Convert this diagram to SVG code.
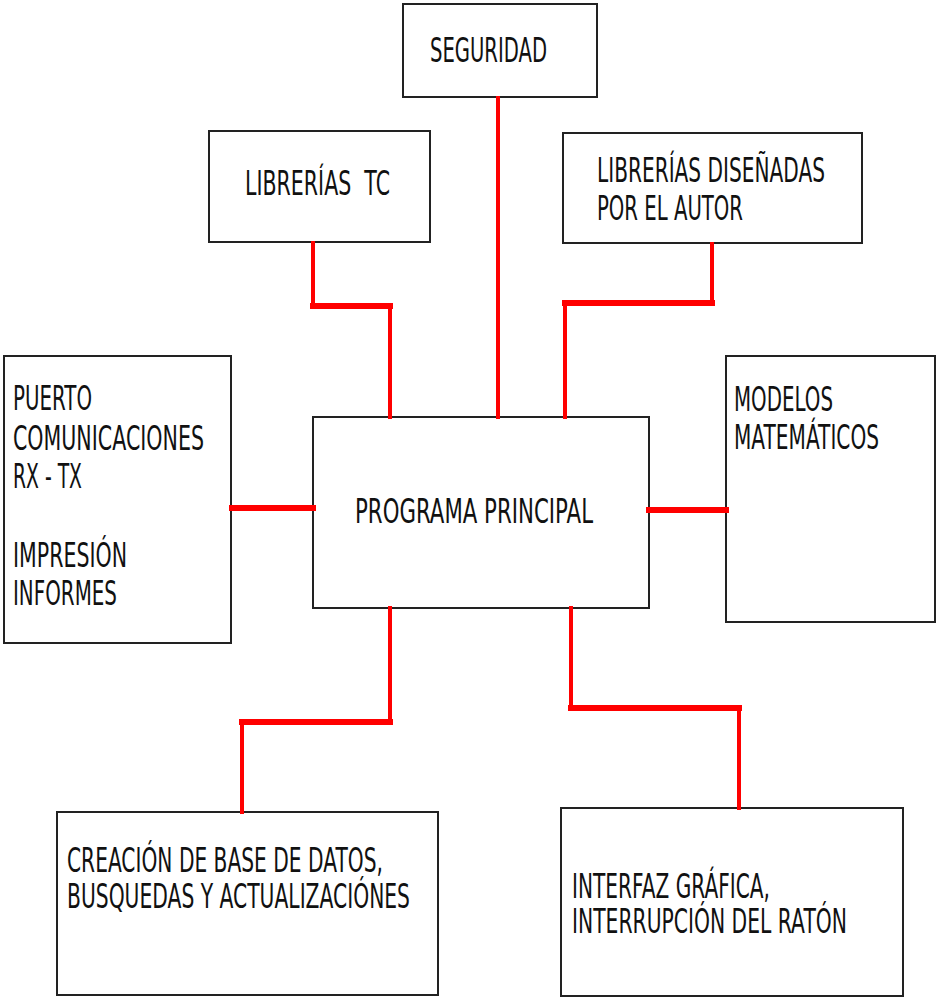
<svg xmlns="http://www.w3.org/2000/svg" width="936" height="999" viewBox="0 0 936 999">
<style>
.box{fill:#fff;stroke:#222;stroke-width:2}
text{font-family:"DejaVu Sans","Liberation Sans",sans-serif;font-size:19px;fill:#111}
.v{stroke:#f00;stroke-width:4;stroke-linecap:square}
.h{stroke:#f00;stroke-width:6;stroke-linecap:square}
</style>
<rect width="936" height="999" fill="#fff"/>
<g id="nodes">
<g id="seguridad"><rect class="box" x="403" y="4" width="194" height="93"/>
<text transform="translate(430,62) scale(1,1.8)" textLength="117" lengthAdjust="spacingAndGlyphs">SEGURIDAD</text></g>
<g id="librerias-tc"><rect class="box" x="209" y="131" width="221" height="111"/>
<text xml:space="preserve" transform="translate(245,195) scale(1,1.8)" textLength="145" lengthAdjust="spacingAndGlyphs">LIBRERÍAS  TC</text></g>
<g id="librerias-autor"><rect class="box" x="563" y="133" width="299" height="110"/>
<text transform="translate(597,182) scale(1,1.8)" textLength="228" lengthAdjust="spacingAndGlyphs">LIBRERÍAS DISEÑADAS</text>
<text transform="translate(597,220) scale(1,1.8)" textLength="146" lengthAdjust="spacingAndGlyphs">POR EL AUTOR</text></g>
<g id="puerto"><rect class="box" x="4" y="356" width="227" height="287"/>
<text transform="translate(13,410) scale(1,1.8)" textLength="79" lengthAdjust="spacingAndGlyphs">PUERTO</text>
<text transform="translate(13,450) scale(1,1.8)" textLength="191" lengthAdjust="spacingAndGlyphs">COMUNICACIONES</text>
<text transform="translate(13,488) scale(1,1.8)" textLength="69" lengthAdjust="spacingAndGlyphs">RX - TX</text>
<text transform="translate(13,567) scale(1,1.8)" textLength="114" lengthAdjust="spacingAndGlyphs">IMPRESIÓN</text>
<text transform="translate(13,605) scale(1,1.8)" textLength="104" lengthAdjust="spacingAndGlyphs">INFORMES</text></g>
<g id="programa"><rect class="box" x="313" y="417" width="336" height="191"/>
<text transform="translate(355,523) scale(1,1.8)" textLength="238" lengthAdjust="spacingAndGlyphs">PROGRAMA PRINCIPAL</text></g>
<g id="modelos"><rect class="box" x="726" y="356" width="209" height="266"/>
<text transform="translate(734,411) scale(1,1.8)" textLength="99" lengthAdjust="spacingAndGlyphs">MODELOS</text>
<text transform="translate(734,449) scale(1,1.8)" textLength="145" lengthAdjust="spacingAndGlyphs">MATEMÁTICOS</text></g>
<g id="creacion"><rect class="box" x="57" y="812" width="381" height="183"/>
<text transform="translate(67,872) scale(1,1.8)" textLength="316" lengthAdjust="spacingAndGlyphs">CREACIÓN DE BASE DE DATOS,</text>
<text transform="translate(67,908) scale(1,1.8)" textLength="343" lengthAdjust="spacingAndGlyphs">BUSQUEDAS Y ACTUALIZACIÓNES</text></g>
<g id="interfaz"><rect class="box" x="561" y="808" width="342" height="188"/>
<text transform="translate(572,898) scale(1,1.8)" textLength="198" lengthAdjust="spacingAndGlyphs">INTERFAZ GRÁFICA,</text>
<text transform="translate(572,933) scale(1,1.8)" textLength="275" lengthAdjust="spacingAndGlyphs">INTERRUPCIÓN DEL RATÓN</text></g>
</g>
<g id="connectors">
<line class="v" x1="313" y1="243" x2="313" y2="306"/>
<line class="h" x1="313" y1="306" x2="390" y2="306"/>
<line class="v" x1="390" y1="306" x2="390" y2="417"/>
<line class="v" x1="498" y1="98" x2="498" y2="417"/>
<line class="v" x1="712" y1="244" x2="712" y2="303"/>
<line class="h" x1="565" y1="303" x2="712" y2="303"/>
<line class="v" x1="565" y1="303" x2="565" y2="417"/>
<line class="h" x1="232" y1="508" x2="313" y2="508"/>
<line class="h" x1="649" y1="510" x2="726" y2="510"/>
<line class="v" x1="390" y1="608" x2="390" y2="722"/>
<line class="h" x1="242" y1="722" x2="390" y2="722"/>
<line class="v" x1="242" y1="722" x2="242" y2="812"/>
<line class="v" x1="571" y1="608" x2="571" y2="708"/>
<line class="h" x1="571" y1="708" x2="739" y2="708"/>
<line class="v" x1="739" y1="708" x2="739" y2="808"/>
</g>
</svg>
